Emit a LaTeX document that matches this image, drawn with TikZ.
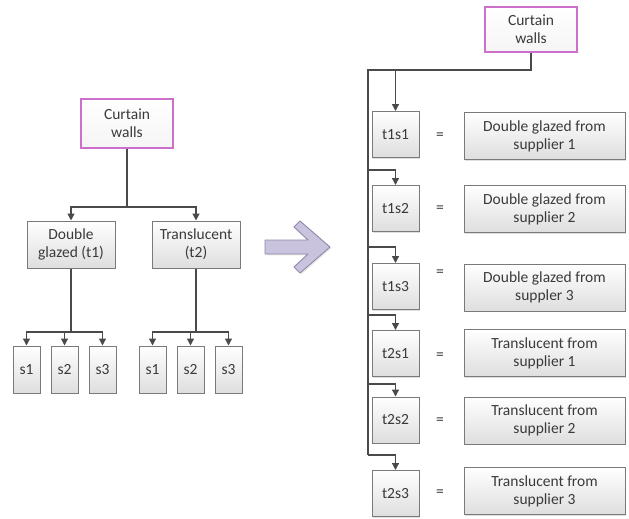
\documentclass[tikz,border=0pt]{standalone}
\usepackage{fontspec}
\setmainfont{Carlito}
\usetikzlibrary{arrows.meta,shadows,positioning}
\definecolor{linec}{HTML}{4A4A4A}
\definecolor{boxline}{HTML}{7A7A7A}
\definecolor{boxfill}{HTML}{DEDEDE}
\definecolor{rootline}{HTML}{CC70CC}
\definecolor{textc}{HTML}{3A3A3A}
\definecolor{arrfill}{HTML}{C9C3DE}
\definecolor{arrline}{HTML}{8F88A8}
\tikzset{
  box/.style={draw=boxline, line width=1pt, top color=white, bottom color=boxfill, align=center, inner sep=1pt, text=textc,
    font=\fontsize{15.5}{18}\selectfont,
    drop shadow={shadow xshift=1.3pt, shadow yshift=-1.3pt, opacity=0.25}},
  rootbox/.style={box, draw=rootline, line width=1.1pt, bottom color=gray!8},
  sbox/.style={box, minimum width=27pt, minimum height=47pt},
  tsbox/.style={box, minimum width=47pt, minimum height=46pt},
  descbox/.style={box, minimum width=161pt, minimum height=47pt},
  eq/.style={text=textc, font=\fontsize{15.5}{18}\selectfont},
  link/.style={draw=linec, line width=1.3pt},
  tip/.style={link, -{Triangle[length=7pt,width=7pt]}},
}
\begin{document}
\begin{tikzpicture}[x=1pt,y=-1pt]
\useasboundingbox (0,0) rectangle (629,519);
% left tree
\node[rootbox, minimum width=92pt, minimum height=49pt] (cwL) at (127,123.5) {Curtain\\walls};
\node[box, minimum width=88pt, minimum height=47pt] (dg) at (71,244.5) {Double\\glazed (t1)};
\node[box, minimum width=88pt, minimum height=47pt] (tr) at (196,244.5) {Translucent\\(t2)};
\node[sbox] (s1a) at (26.5,369.5) {s1};
\node[sbox] (s2a) at (64.5,369.5) {s2};
\node[sbox] (s3a) at (102.5,369.5) {s3};
\node[sbox] (s1b) at (152.5,369.5) {s1};
\node[sbox] (s2b) at (190.5,369.5) {s2};
\node[sbox] (s3b) at (228.5,369.5) {s3};
\coordinate (jL) at (127,207);
\coordinate (jdg) at (71,332);
\coordinate (jtr) at (196,332);
\draw[link] (cwL) -- (jL);
\draw[tip] (jL) -| (dg);
\draw[tip] (jL) -| (tr);
\draw[link] (dg) -- (jdg);
\draw[link] (tr) -- (jtr);
\foreach \s in {s1a,s2a,s3a} \draw[tip] (jdg) -| (\s);
\foreach \s in {s1b,s2b,s3b} \draw[tip] (jtr) -| (\s);
% big arrow
\draw[draw=arrline, fill=arrfill, line width=0.9pt, line join=round,
  drop shadow={shadow xshift=1.3pt, shadow yshift=-1.3pt, opacity=0.2}]
  (265,240) -- (308,240) -- (294,227) -- (300,221) -- (330,247) -- (300,273)
  -- (294,267) -- (308,254) -- (265,254) -- cycle;
% right list
\node[rootbox, minimum width=92pt, minimum height=45pt] (cwR) at (531,29.5) {Curtain\\walls};
\node[tsbox] (t1s1) at (395.5,134.5) {t1s1};
\node[tsbox] (t1s2) at (395.5,208.5) {t1s2};
\node[tsbox] (t1s3) at (395.5,286.5) {t1s3};
\node[tsbox] (t2s1) at (395.5,353.5) {t2s1};
\node[tsbox] (t2s2) at (395.5,420) {t2s2};
\node[tsbox] (t2s3) at (395.5,493.5) {t2s3};
\node[eq] (e1) at (440,136) {=};
\node[eq] (e2) at (440,209) {=};
\node[eq] (e3) at (440,273) {=};
\node[eq] (e4) at (440,356) {=};
\node[eq] (e5) at (440,421) {=};
\node[eq] (e6) at (440,493) {=};
\node[descbox] (d1) at (544.5,136) {Double glazed from\\supplier 1};
\node[descbox] (d2) at (544.5,209) {Double glazed from\\supplier 2};
\node[descbox] (d3) at (544.5,287.5) {Double glazed from\\suppler 3};
\node[descbox] (d4) at (544.5,353) {Translucent from\\supplier 1};
\node[descbox] (d5) at (544.5,420.5) {Translucent from\\supplier 2};
\node[descbox] (d6) at (544.5,491) {Translucent from\\supplier 3};
\coordinate (trunkTop) at (368,70);
\coordinate (trunkEnd) at (368,455);
\draw[link] (cwR) |- (trunkTop) -- (trunkEnd);
\coordinate (j1) at (t1s1 |- trunkTop);
\draw[tip] (j1) -- (t1s1);
\foreach \n/\y in {t1s2/170, t1s3/247, t2s1/315, t2s2/384, t2s3/455} {
  \coordinate (j\n) at (368,\y);
  \draw[tip] (j\n) -| (\n);
}
\end{tikzpicture}
\end{document}
